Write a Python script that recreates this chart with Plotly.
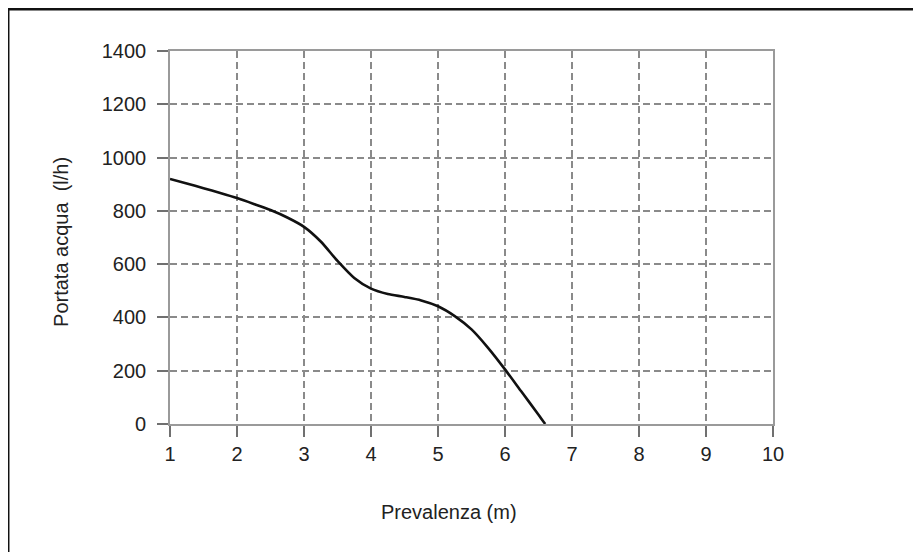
import plotly.graph_objects as go

prevalenza = [1.0, 1.25, 1.5, 1.75, 2.0, 2.25, 2.5, 2.75, 3.0, 3.25, 3.5, 3.75,
              4.0, 4.25, 4.5, 4.75, 5.0, 5.25, 5.5, 5.75, 6.0, 6.25, 6.5, 6.6]
portata = [920, 903, 885, 867, 848, 826, 803, 775, 740, 685, 612, 548,
           508, 488, 477, 464, 442, 405, 355, 285, 205, 120, 35, 0]

x_ticks = [1, 2, 3, 4, 5, 6, 7, 8, 9, 10]
y_ticks = [0, 200, 400, 600, 800, 1000, 1200, 1400]

FONT = "Liberation Sans, Arial, sans-serif"

fig = go.Figure()
fig.add_trace(go.Scatter(
    x=prevalenza, y=portata, mode="lines",
    line=dict(color="#111111", width=2.6, shape="spline", smoothing=0.7),
    showlegend=False, hoverinfo="skip",
))

axis_common = dict(
    showline=True, linecolor="#9a9a9a", linewidth=1.6, mirror=True,
    showgrid=True, gridcolor="#8a8a8a", gridwidth=1.6, griddash="7px,4px",
    ticks="outside", ticklen=11, tickwidth=1.5, tickcolor="#707070",
    zeroline=False,
    tickfont=dict(family=FONT, size=20, color="#222222"),
)

fig.update_xaxes(range=[1, 10], tickvals=x_ticks, ticktext=[str(v) for v in x_ticks], **axis_common)
fig.update_yaxes(range=[0, 1400], tickvals=y_ticks, ticktext=[str(v) for v in y_ticks],
                 ticklabelstandoff=7, **axis_common)

fig.update_layout(
    width=913, height=544,
    margin=dict(l=162, r=148, t=43, b=128, pad=0),
    paper_bgcolor="white", plot_bgcolor="white",
    font=dict(family=FONT, color="#222222"),
    annotations=[
        dict(text="Prevalenza (m)", xref="paper", yref="paper", x=0.4627, y=-0.2359,
             xanchor="center", yanchor="middle", showarrow=False,
             font=dict(family=FONT, size=20, color="#222222")),
        dict(text="Portata acqua\u00a0 (l/h)", xref="paper", yref="paper", x=-0.1808, y=0.488,
             xanchor="center", yanchor="middle", showarrow=False, textangle=-90,
             font=dict(family=FONT, size=20, color="#222222")),
    ],
    shapes=[
        dict(type="rect", xref="paper", yref="paper", x0=-0.2687, x1=1.2371, y0=-0.6, y1=1.1126,
             line=dict(color="#111111", width=3), fillcolor="rgba(0,0,0,0)", layer="above"),
    ],
)

fig.write_html("out.html")
